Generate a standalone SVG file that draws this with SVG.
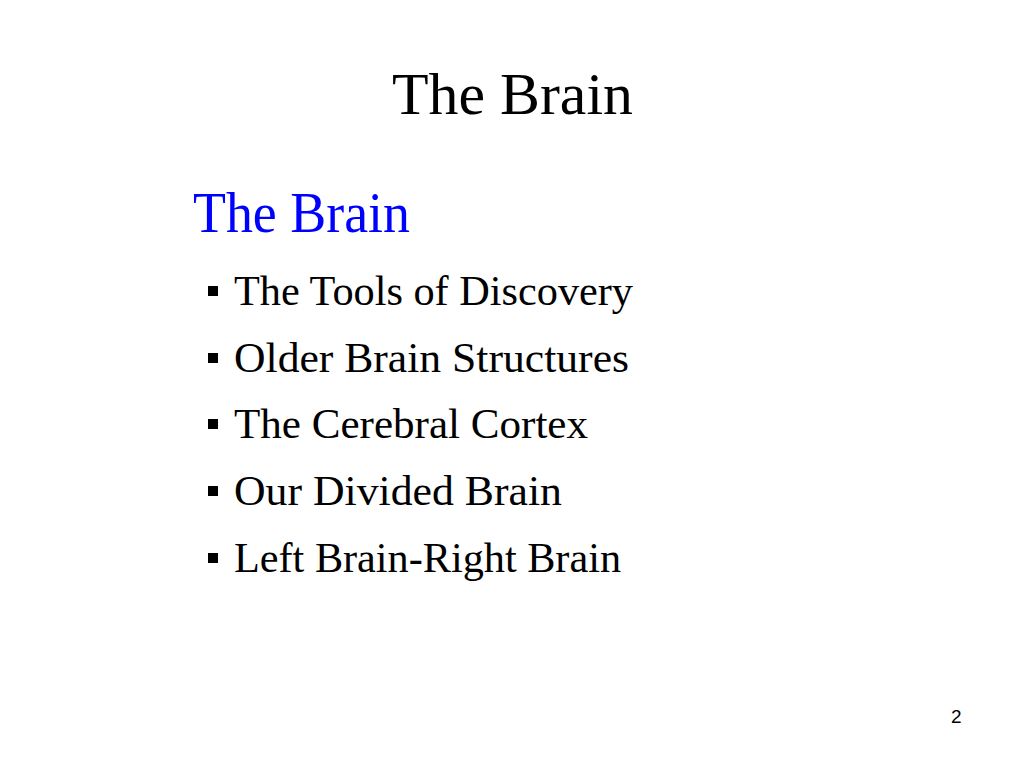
<svg xmlns="http://www.w3.org/2000/svg" width="1024" height="768" viewBox="0 0 1024 768">
<style>
.serif{font-family:"Liberation Serif","DejaVu Serif",serif;}
.title{font-size:60px;fill:#000;}
.sub{font-size:56px;fill:#0000FF;}
.item{font-size:42px;fill:#000;}
.bul{fill:#000;}
.pg{font-family:"Liberation Sans",Arial,sans-serif;font-size:19px;fill:#000;}
</style>
<rect width="1024" height="768" fill="#FFFFFF"/>
<text class="serif title" x="392" y="114" textLength="241" lengthAdjust="spacingAndGlyphs">The Brain</text>
<text class="serif sub" x="193" y="232" textLength="217" lengthAdjust="spacingAndGlyphs">The Brain</text>
<g id="bullets">
<rect class="bul" x="208" y="286" width="10" height="10"/>
<text class="serif item" x="234" y="305" textLength="399" lengthAdjust="spacingAndGlyphs">The Tools of Discovery</text>
<rect class="bul" x="208" y="353" width="10" height="10"/>
<text class="serif item" x="234" y="372" textLength="395" lengthAdjust="spacingAndGlyphs">Older Brain Structures</text>
<rect class="bul" x="208" y="419" width="10" height="10"/>
<text class="serif item" x="234" y="438" textLength="354" lengthAdjust="spacingAndGlyphs">The Cerebral Cortex</text>
<rect class="bul" x="208" y="486" width="10" height="10"/>
<text class="serif item" x="234" y="505" textLength="328" lengthAdjust="spacingAndGlyphs">Our Divided Brain</text>
<rect class="bul" x="208" y="553" width="10" height="10"/>
<text class="serif item" x="234" y="572" textLength="387" lengthAdjust="spacingAndGlyphs">Left Brain-Right Brain</text>
</g>
<text class="pg" x="951" y="723">2</text>
</svg>
